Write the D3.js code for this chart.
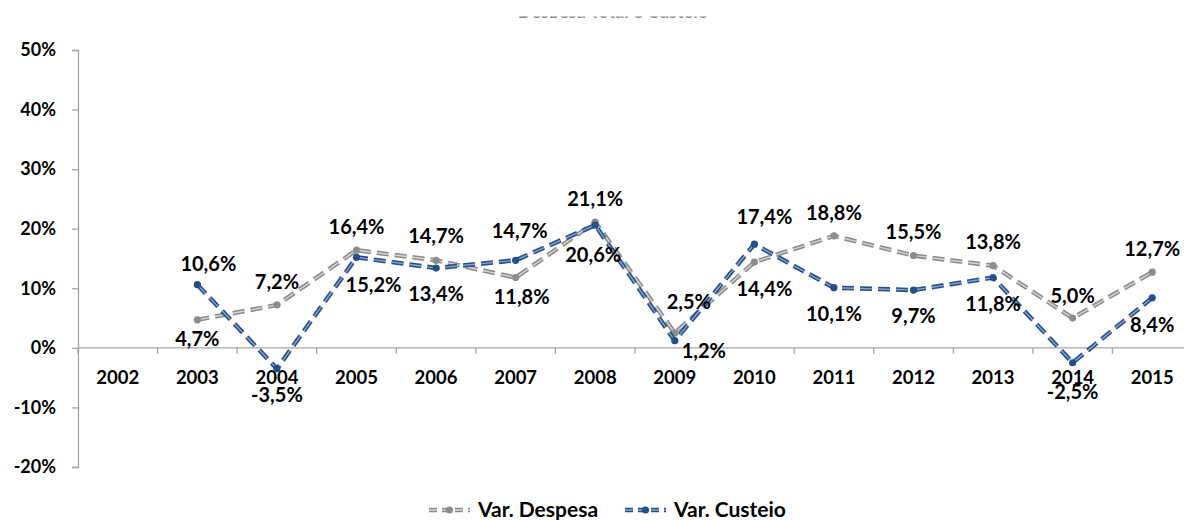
<!DOCTYPE html>
<html>
<head>
<meta charset="utf-8">
<script src="https://cdn.jsdelivr.net/npm/d3@7"></script>
<style>
  html, body { margin: 0; padding: 0; background: #fff; }
  svg { display: block; }
  text { font-family: Lato, "Open Sans", sans-serif; font-weight: 700; fill: #000; }
</style>
</head>
<body>
<svg id="chart" width="1184" height="520"></svg>
<script>
// Anos e variações anuais (%)
const years = ["2002","2003","2004","2005","2006","2007","2008","2009","2010","2011","2012","2013","2014","2015"];
const despesa = [null, 4.7, 7.2, 16.4, 14.7, 11.8, 21.1, 2.5, 14.4, 18.8, 15.5, 13.8, 5.0, 12.7];
const custeio = [null, 10.6, -3.5, 15.2, 13.4, 14.7, 20.6, 1.2, 17.4, 10.1, 9.7, 11.8, -2.5, 8.4];
const yTicks = [-20, -10, 0, 10, 20, 30, 40, 50];
const seriesNames = ["Var. Despesa", "Var. Custeio"];

// Deslocamento dos rótulos de dados [dx, dy] em relação ao ponto
const despesaLabelOffset = [null,[0,19],[0,-23],[0,-23],[0,-24],[6,19],[0,-23],[14,-31],[10,27],[0,-23],[0,-24],[0,-24],[0,-22],[0,-23]];
const custeioLabelOffset = [null,[11,-21],[0,26],[17,28],[0,26],[4,-29],[-2,30],[29,10],[10,-27],[0,26],[0,26],[0,26],[0,29],[0,27]];

const svg = d3.select("#chart");
const plotLeft = 78, plotRight = 1192, plotTop = 50, plotBottom = 467;

const x = d3.scaleBand().domain(years).range([plotLeft, plotRight]).padding(0);
const y = d3.scaleLinear().domain([-20, 50]).range([plotBottom, plotTop]);
const fmt = v => d3.format(".1f")(v).replace("−", "-").replace(".", ",") + "%";

// Título (parcialmente fora da área visível)
const clip = svg.append("defs").append("clipPath").attr("id", "titleClip");
clip.append("rect").attr("x", 0).attr("y", 16.5).attr("width", 1184).attr("height", 1.5);
svg.append("text")
  .attr("clip-path", "url(#titleClip)")
  .attr("x", 613).attr("y", 18)
  .attr("text-anchor", "middle")
  .style("font-size", "18px")
  .style("fill", "#888")
  .text("Despesa Total e Custeio");

// Eixo Y
const yAxis = svg.append("g").attr("transform", `translate(${plotLeft},0)`)
  .call(d3.axisLeft(y).tickValues(yTicks).tickSize(6).tickPadding(16).tickFormat(d => d + "%"));
yAxis.select(".domain").attr("stroke", "#a6a6a6").attr("stroke-width", 1.3);
yAxis.selectAll(".tick line").attr("stroke", "#a6a6a6").attr("stroke-width", 1.3);
yAxis.selectAll(".tick text").style("font-size", "18px").style("font-family", "Lato, sans-serif").attr("fill", "#000");

// Eixo X na linha do zero, marcas entre categorias
const y0 = y(0);
svg.append("line").attr("x1", plotLeft).attr("x2", plotRight).attr("y1", y0).attr("y2", y0)
  .attr("stroke", "#a6a6a6").attr("stroke-width", 1.3);
const boundaries = years.map(d => x(d)).concat([x(years[years.length - 1]) + x.bandwidth()]);
svg.selectAll(".xtick").data(boundaries).join("line")
  .attr("x1", d => d).attr("x2", d => d).attr("y1", y0).attr("y2", y0 + 6)
  .attr("stroke", "#a6a6a6").attr("stroke-width", 1.3);
svg.selectAll(".xlab").data(years).join("text")
  .attr("x", d => x(d) + x.bandwidth() / 2).attr("y", y0 + 30)
  .attr("dy", "0.35em").attr("text-anchor", "middle")
  .style("font-size", "18.5px").text(d => d);

const cx = i => x(years[i]) + x.bandwidth() / 2;

function drawSeries(values, outer, inner) {
  const pts = values.map((v, i) => ({ v, i })).filter(d => d.v !== null);
  const line = d3.line().x(d => cx(d.i)).y(d => y(d.v));
  const g = svg.append("g");
  g.append("path").datum(pts).attr("d", line).attr("fill", "none")
    .attr("stroke", outer).attr("stroke-width", 4.5).attr("stroke-dasharray", "12,6")
    .attr("stroke-linejoin", "round");
  g.append("path").datum(pts).attr("d", line).attr("fill", "none")
    .attr("stroke", inner).attr("stroke-width", 1.4).attr("stroke-dasharray", "12,6")
    .attr("stroke-linejoin", "round");
  g.selectAll("circle").data(pts).join("circle")
    .attr("cx", d => cx(d.i)).attr("cy", d => y(d.v)).attr("r", 3.6).attr("fill", outer);
  return pts;
}

function drawLabels(pts, offsets) {
  svg.append("g").selectAll("text").data(pts).join("text")
    .attr("x", d => cx(d.i) + offsets[d.i][0])
    .attr("y", d => y(d.v) + offsets[d.i][1])
    .attr("dy", "0.35em").attr("text-anchor", "middle")
    .style("font-size", "20px").text(d => fmt(d.v));
}

const pD = drawSeries(despesa, "#8c8c8c", "#d4d4d4");
const pC = drawSeries(custeio, "#234f8a", "#8aa5cc");
drawLabels(pD, despesaLabelOffset);
drawLabels(pC, custeioLabelOffset);

// Legenda
const legend = [
  { name: seriesNames[0], outer: "#8c8c8c", inner: "#d4d4d4", x: 429 },
  { name: seriesNames[1], outer: "#234f8a", inner: "#8aa5cc", x: 625 }
];
const ly = 510;
legend.forEach(l => {
  const g = svg.append("g");
  g.append("line").attr("x1", l.x).attr("x2", l.x + 41).attr("y1", ly).attr("y2", ly)
    .attr("stroke", l.outer).attr("stroke-width", 4.5).attr("stroke-dasharray", "8,5");
  g.append("line").attr("x1", l.x).attr("x2", l.x + 41).attr("y1", ly).attr("y2", ly)
    .attr("stroke", l.inner).attr("stroke-width", 1.4).attr("stroke-dasharray", "8,5");
  g.append("circle").attr("cx", l.x + 20.5).attr("cy", ly).attr("r", 3.6).attr("fill", l.outer);
  g.append("text").attr("x", l.x + 49).attr("y", ly).attr("dy", "0.35em")
    .style("font-size", "21px").text(l.name);
});
</script>
</body>
</html>
